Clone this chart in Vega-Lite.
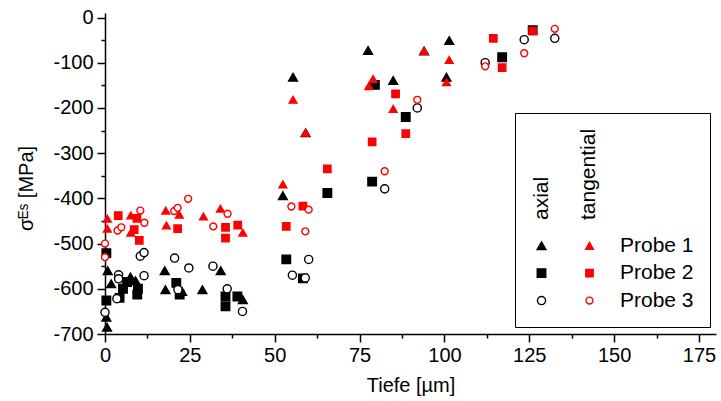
{
 "$schema": "https://vega.github.io/schema/vega-lite/v6.json",
 "width": 611, "height": 321,
 "autosize": {"type": "none"},
 "padding": {"left": 105, "top": 13, "right": 5, "bottom": 67},
 "background": "white",
 "config": {"view": {"stroke": null}, "font": "Liberation Sans",
  "legend": {"orient": "none", "legendX": 410, "legendY": 100, "columns": 2, "direction": "vertical",
    "labelFont": "Liberation Sans", "labelFontSize": 21, "labelColor": "black", "labelOffset": 20, "columnPadding": 7, "rowPadding": 5.5,
    "symbolStrokeWidth": 1.4,
    "titleFont": "Liberation Sans", "titleFontSize": 21, "titleFontWeight": "normal", "titleColor": "black", "titleLineHeight": 47,
    "titleAlign": "left", "titleBaseline": "top", "titlePadding": 15,
    "strokeColor": "black", "fillColor": "white", "padding": 16}},
 "data": {"values": [
  {"serie":"axial Probe 1","tiefe":0.8,"sigma":-560},{"serie":"axial Probe 1","tiefe":0.4,"sigma":-663},{"serie":"axial Probe 1","tiefe":0.6,"sigma":-685},{"serie":"axial Probe 1","tiefe":1.8,"sigma":-589},{"serie":"axial Probe 1","tiefe":7.5,"sigma":-574},{"serie":"axial Probe 1","tiefe":9,"sigma":-582},{"serie":"axial Probe 1","tiefe":17.6,"sigma":-560},{"serie":"axial Probe 1","tiefe":17.8,"sigma":-602},{"serie":"axial Probe 1","tiefe":22.7,"sigma":-606},{"serie":"axial Probe 1","tiefe":28.7,"sigma":-602},{"serie":"axial Probe 1","tiefe":34.1,"sigma":-560},{"serie":"axial Probe 1","tiefe":40.6,"sigma":-624},{"serie":"axial Probe 1","tiefe":55.4,"sigma":-132},{"serie":"axial Probe 1","tiefe":59.1,"sigma":-255},{"serie":"axial Probe 1","tiefe":52.4,"sigma":-394},{"serie":"axial Probe 1","tiefe":77.5,"sigma":-73},{"serie":"axial Probe 1","tiefe":84.9,"sigma":-139},{"serie":"axial Probe 1","tiefe":94,"sigma":-74},{"serie":"axial Probe 1","tiefe":101.4,"sigma":-51},{"serie":"axial Probe 1","tiefe":100.6,"sigma":-132},
  {"serie":"axial Probe 2","tiefe":0.4,"sigma":-521},{"serie":"axial Probe 2","tiefe":0.4,"sigma":-626},{"serie":"axial Probe 2","tiefe":5.3,"sigma":-600},{"serie":"axial Probe 2","tiefe":4.3,"sigma":-620},{"serie":"axial Probe 2","tiefe":6.5,"sigma":-585},{"serie":"axial Probe 2","tiefe":9.7,"sigma":-600},{"serie":"axial Probe 2","tiefe":9.5,"sigma":-613},{"serie":"axial Probe 2","tiefe":21,"sigma":-587},{"serie":"axial Probe 2","tiefe":22,"sigma":-613},{"serie":"axial Probe 2","tiefe":35.5,"sigma":-617},{"serie":"axial Probe 2","tiefe":35.5,"sigma":-639},{"serie":"axial Probe 2","tiefe":39,"sigma":-617},{"serie":"axial Probe 2","tiefe":53.4,"sigma":-535},{"serie":"axial Probe 2","tiefe":58.3,"sigma":-577},{"serie":"axial Probe 2","tiefe":65.5,"sigma":-388},{"serie":"axial Probe 2","tiefe":78.7,"sigma":-363},{"serie":"axial Probe 2","tiefe":79.5,"sigma":-149},{"serie":"axial Probe 2","tiefe":88.6,"sigma":-220},{"serie":"axial Probe 2","tiefe":117,"sigma":-88},{"serie":"axial Probe 2","tiefe":126,"sigma":-28},
  {"serie":"axial Probe 3","tiefe":10.4,"sigma":-528},{"serie":"axial Probe 3","tiefe":11.5,"sigma":-520},{"serie":"axial Probe 3","tiefe":20.5,"sigma":-532},{"serie":"axial Probe 3","tiefe":24.7,"sigma":-554},{"serie":"axial Probe 3","tiefe":31.8,"sigma":-550},{"serie":"axial Probe 3","tiefe":11.5,"sigma":-571},{"serie":"axial Probe 3","tiefe":4,"sigma":-569},{"serie":"axial Probe 3","tiefe":4,"sigma":-578},{"serie":"axial Probe 3","tiefe":3.5,"sigma":-622},{"serie":"axial Probe 3","tiefe":21.5,"sigma":-602},{"serie":"axial Probe 3","tiefe":36,"sigma":-600},{"serie":"axial Probe 3","tiefe":40.5,"sigma":-650},{"serie":"axial Probe 3","tiefe":0,"sigma":-652},{"serie":"axial Probe 3","tiefe":55.2,"sigma":-570},{"serie":"axial Probe 3","tiefe":59,"sigma":-576},{"serie":"axial Probe 3","tiefe":60,"sigma":-535},{"serie":"axial Probe 3","tiefe":82.4,"sigma":-379},{"serie":"axial Probe 3","tiefe":92,"sigma":-200},{"serie":"axial Probe 3","tiefe":112,"sigma":-100},{"serie":"axial Probe 3","tiefe":123.5,"sigma":-49},{"serie":"axial Probe 3","tiefe":132.5,"sigma":-46},
  {"serie":"tangential Probe 1","tiefe":0.7,"sigma":-445},{"serie":"tangential Probe 1","tiefe":0.7,"sigma":-467},{"serie":"tangential Probe 1","tiefe":7.6,"sigma":-438},{"serie":"tangential Probe 1","tiefe":7.6,"sigma":-476},{"serie":"tangential Probe 1","tiefe":17.9,"sigma":-427},{"serie":"tangential Probe 1","tiefe":18.1,"sigma":-460},{"serie":"tangential Probe 1","tiefe":21.9,"sigma":-436},{"serie":"tangential Probe 1","tiefe":29,"sigma":-440},{"serie":"tangential Probe 1","tiefe":34,"sigma":-423},{"serie":"tangential Probe 1","tiefe":40.6,"sigma":-476},{"serie":"tangential Probe 1","tiefe":55.4,"sigma":-182},{"serie":"tangential Probe 1","tiefe":59.1,"sigma":-255},{"serie":"tangential Probe 1","tiefe":52.4,"sigma":-369},{"serie":"tangential Probe 1","tiefe":79,"sigma":-136},{"serie":"tangential Probe 1","tiefe":77.7,"sigma":-152},{"serie":"tangential Probe 1","tiefe":84.9,"sigma":-202},{"serie":"tangential Probe 1","tiefe":94,"sigma":-74},{"serie":"tangential Probe 1","tiefe":101.4,"sigma":-94},{"serie":"tangential Probe 1","tiefe":100.6,"sigma":-143},
  {"serie":"tangential Probe 2","tiefe":3.9,"sigma":-438},{"serie":"tangential Probe 2","tiefe":8.6,"sigma":-469},{"serie":"tangential Probe 2","tiefe":9.4,"sigma":-444},{"serie":"tangential Probe 2","tiefe":10.1,"sigma":-493},{"serie":"tangential Probe 2","tiefe":21.4,"sigma":-467},{"serie":"tangential Probe 2","tiefe":35.5,"sigma":-464},{"serie":"tangential Probe 2","tiefe":35.5,"sigma":-488},{"serie":"tangential Probe 2","tiefe":39.1,"sigma":-459},{"serie":"tangential Probe 2","tiefe":53.4,"sigma":-462},{"serie":"tangential Probe 2","tiefe":58.3,"sigma":-417},{"serie":"tangential Probe 2","tiefe":65.5,"sigma":-335},{"serie":"tangential Probe 2","tiefe":78.7,"sigma":-275},{"serie":"tangential Probe 2","tiefe":85.6,"sigma":-169},{"serie":"tangential Probe 2","tiefe":88.6,"sigma":-257},{"serie":"tangential Probe 2","tiefe":114.4,"sigma":-46},{"serie":"tangential Probe 2","tiefe":117,"sigma":-111},{"serie":"tangential Probe 2","tiefe":126,"sigma":-30},
  {"serie":"tangential Probe 3","tiefe":0,"sigma":-530},{"serie":"tangential Probe 3","tiefe":0,"sigma":-500},{"serie":"tangential Probe 3","tiefe":3.7,"sigma":-471},{"serie":"tangential Probe 3","tiefe":4.8,"sigma":-464},{"serie":"tangential Probe 3","tiefe":10.4,"sigma":-427},{"serie":"tangential Probe 3","tiefe":11.6,"sigma":-454},{"serie":"tangential Probe 3","tiefe":20.4,"sigma":-428},{"serie":"tangential Probe 3","tiefe":21.4,"sigma":-421},{"serie":"tangential Probe 3","tiefe":24.5,"sigma":-401},{"serie":"tangential Probe 3","tiefe":31.9,"sigma":-462},{"serie":"tangential Probe 3","tiefe":36.1,"sigma":-434},{"serie":"tangential Probe 3","tiefe":54.9,"sigma":-418},{"serie":"tangential Probe 3","tiefe":60,"sigma":-425},{"serie":"tangential Probe 3","tiefe":59,"sigma":-473},{"serie":"tangential Probe 3","tiefe":82.4,"sigma":-340},{"serie":"tangential Probe 3","tiefe":92,"sigma":-182},{"serie":"tangential Probe 3","tiefe":112,"sigma":-108},{"serie":"tangential Probe 3","tiefe":123.5,"sigma":-79},{"serie":"tangential Probe 3","tiefe":132.5,"sigma":-25}
 ]},
 "mark": {"type": "point", "strokeWidth": 1.4, "opacity": 1},
 "encoding": {
  "x": {"field": "tiefe", "type": "quantitative", "scale": {"domain": [0, 180], "nice": false, "zero": false},
   "axis": {"title": "Tiefe [µm]", "values": [0,12.5,25,37.5,50,62.5,75,87.5,100,112.5,125,137.5,150,162.5,175],
    "labelExpr": "datum.value % 25 === 0 ? datum.label : ''",
    "tickSize": {"condition": {"test": "datum.value % 25 === 0", "value": 8}, "value": 4},
    "grid": false, "labelFlush": false, "labelOverlap": false, "domainColor": "black", "domainWidth": 1.5, "tickColor": "black", "tickWidth": 1.5,
    "labelFont": "Liberation Sans", "labelFontSize": 20, "labelColor": "black", "labelPadding": 3,
    "titleFont": "Liberation Sans", "titleFontSize": 20, "titleFontWeight": "normal", "titleColor": "black", "titlePadding": 10}},
  "y": {"field": "sigma", "type": "quantitative", "scale": {"domain": [-700, 10], "nice": false, "zero": false},
   "axis": {"title": "σᴱˢ [MPa]", "values": [-700,-650,-600,-550,-500,-450,-400,-350,-300,-250,-200,-150,-100,-50,0],
    "labelExpr": "datum.value % 100 === 0 ? '' + datum.value : ''",
    "tickSize": {"condition": {"test": "datum.value % 100 === 0", "value": 8}, "value": 4},
    "grid": false, "labelFlush": false, "labelOverlap": false, "domainColor": "black", "domainWidth": 1.5, "tickColor": "black", "tickWidth": 1.5,
    "labelFont": "Liberation Sans", "labelFontSize": 20, "labelColor": "black", "labelPadding": 4,
    "titleFont": "Liberation Sans", "titleFontSize": 20, "titleFontWeight": "normal", "titleColor": "black",
    "titleAngle": 270, "titleAlign": "center", "titleBaseline": "bottom", "titleX": -69, "titleY": 175}},
  "shape": {"field": "serie", "type": "nominal",
   "scale": {"domain": ["axial Probe 1","axial Probe 2","axial Probe 3","tangential Probe 1","tangential Probe 2","tangential Probe 3"],
    "range": ["triangle-up","square","circle","triangle-up","square","circle"]},
   "legend": {"title": ["axial", "tangential"],
    "labelExpr": "indexof(datum.label, 'tangential') === 0 ? substring(datum.label, 11) : ''",
    "encoding": {"title": {"angle": {"value": -90}, "dx": {"value": -91}}}}},
  "fill": {"field": "serie", "type": "nominal",
   "scale": {"domain": ["axial Probe 1","axial Probe 2","axial Probe 3","tangential Probe 1","tangential Probe 2","tangential Probe 3"],
    "range": ["black","black","white","red","red","white"]},
   "legend": {"title": ["axial", "tangential"],
    "labelExpr": "indexof(datum.label, 'tangential') === 0 ? substring(datum.label, 11) : ''",
    "encoding": {"title": {"angle": {"value": -90}, "dx": {"value": -91}}}}},
  "stroke": {"field": "serie", "type": "nominal",
   "scale": {"domain": ["axial Probe 1","axial Probe 2","axial Probe 3","tangential Probe 1","tangential Probe 2","tangential Probe 3"],
    "range": ["black","black","black","red","red","red"]},
   "legend": {"title": ["axial", "tangential"],
    "labelExpr": "indexof(datum.label, 'tangential') === 0 ? substring(datum.label, 11) : ''",
    "encoding": {"title": {"angle": {"value": -90}, "dx": {"value": -91}}}}},
  "size": {"field": "serie", "type": "nominal",
   "scale": {"domain": ["axial Probe 1","axial Probe 2","axial Probe 3","tangential Probe 1","tangential Probe 2","tangential Probe 3"],
    "range": [78,48,36,78,48,36]},
   "legend": {"title": ["axial", "tangential"],
    "labelExpr": "indexof(datum.label, 'tangential') === 0 ? substring(datum.label, 11) : ''",
    "encoding": {"title": {"angle": {"value": -90}, "dx": {"value": -91}}}}}
 }
}
